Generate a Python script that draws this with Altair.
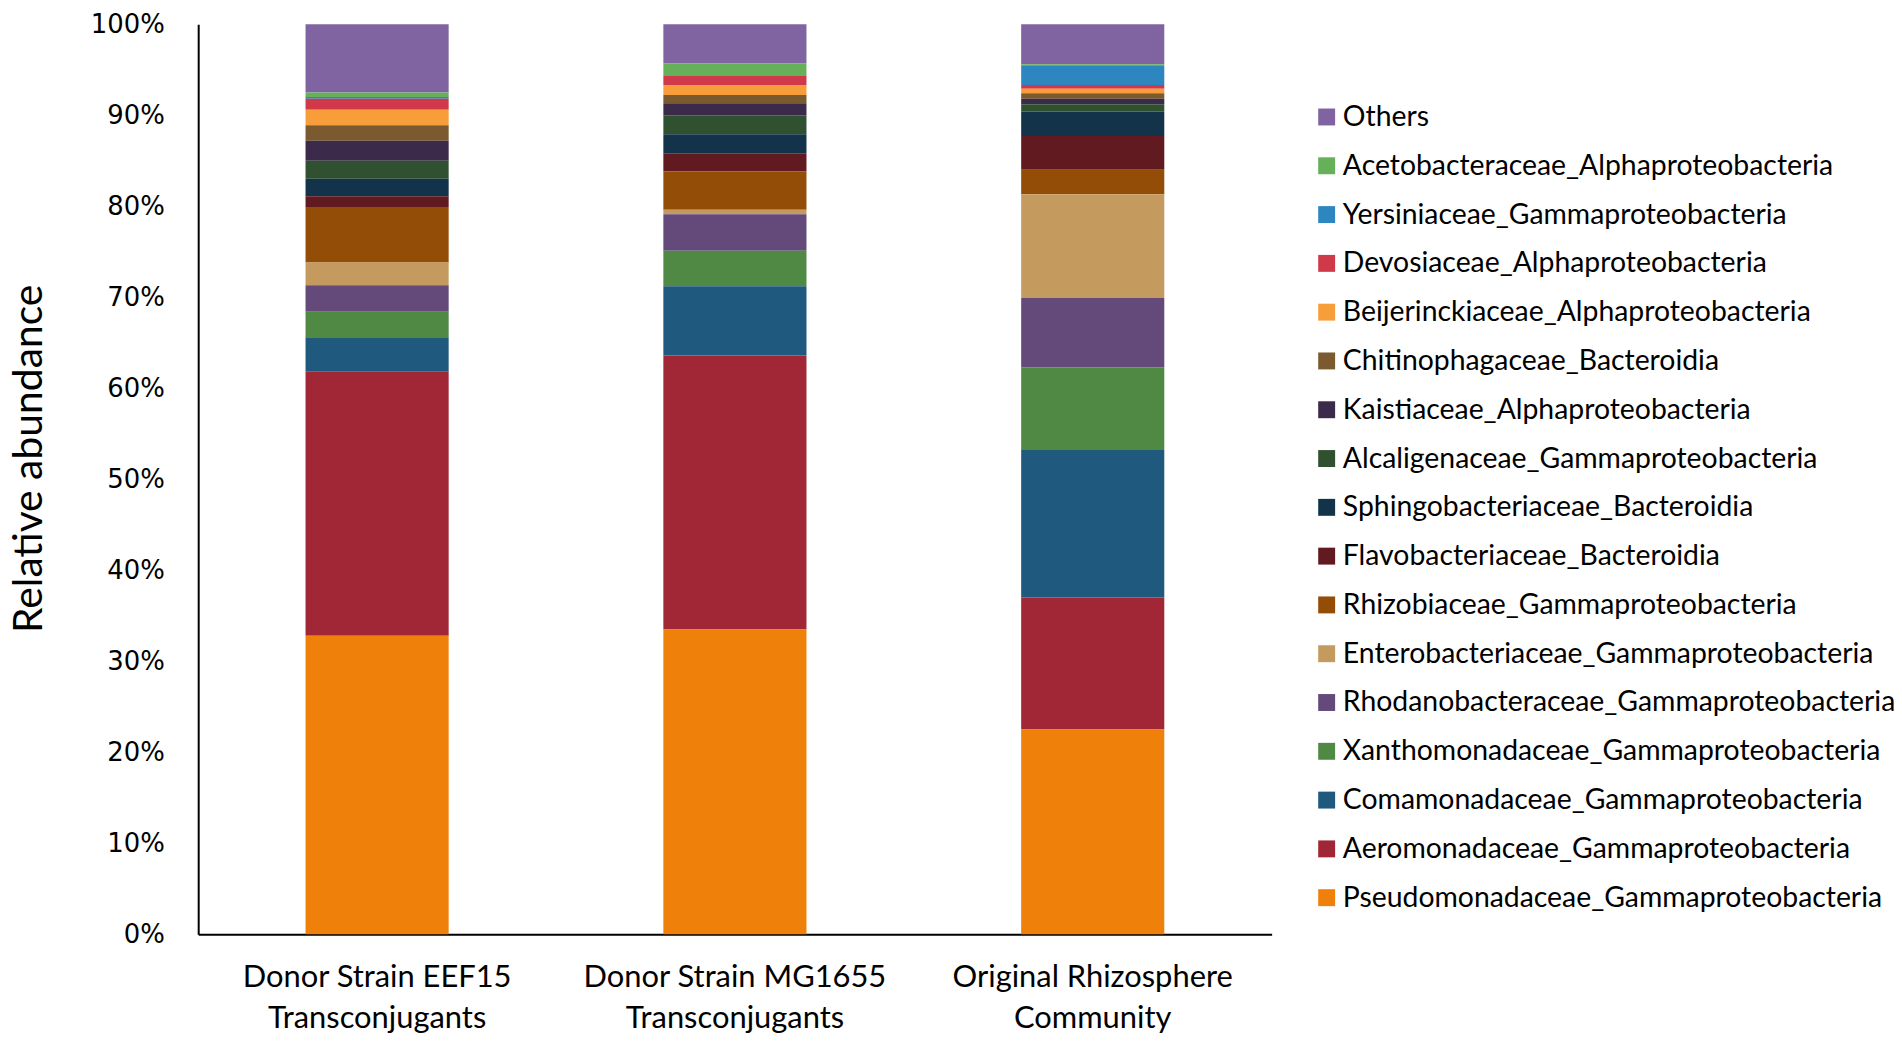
import altair as alt
import pandas as pd

samples = [
    "Donor Strain EEF15|Transconjugants",
    "Donor Strain MG1655|Transconjugants",
    "Original Rhizosphere|Community",
]

# legend order (top to bottom)
taxa = [
    "Others",
    "Acetobacteraceae_Alphaproteobacteria",
    "Yersiniaceae_Gammaproteobacteria",
    "Devosiaceae_Alphaproteobacteria",
    "Beijerinckiaceae_Alphaproteobacteria",
    "Chitinophagaceae_Bacteroidia",
    "Kaistiaceae_Alphaproteobacteria",
    "Alcaligenaceae_Gammaproteobacteria",
    "Sphingobacteriaceae_Bacteroidia",
    "Flavobacteriaceae_Bacteroidia",
    "Rhizobiaceae_Gammaproteobacteria",
    "Enterobacteriaceae_Gammaproteobacteria",
    "Rhodanobacteraceae_Gammaproteobacteria",
    "Xanthomonadaceae_Gammaproteobacteria",
    "Comamonadaceae_Gammaproteobacteria",
    "Aeromonadaceae_Gammaproteobacteria",
    "Pseudomonadaceae_Gammaproteobacteria",
]

colors = [
    "#8064A2", "#67B05A", "#2E86C1", "#D0394A", "#F79D3A", "#7A5A2E",
    "#3B2A4A", "#2F5130", "#12334A", "#601A20", "#944D07", "#C49A5E",
    "#634A7B", "#508943", "#1F5A7E", "#A12737", "#EF8009",
]

# relative abundance (%) per sample, in legend order
eef15 = [7.5, 0.5, 0.2, 1.2, 1.7, 1.7, 2.2, 2.0, 1.9, 1.2, 6.1, 2.5, 2.9, 2.8, 3.8, 29.0, 32.8]
mg1655 = [4.3, 1.4, 0.0, 1.0, 1.1, 0.9, 1.3, 2.1, 2.1, 2.0, 4.2, 0.5, 4.0, 3.9, 7.6, 30.1, 33.5]
rhizo = [4.4, 0.2, 2.1, 0.4, 0.5, 0.6, 0.6, 0.8, 2.7, 3.7, 2.7, 11.4, 7.6, 9.1, 16.2, 14.5, 22.5]

y_ticks = [0, 10, 20, 30, 40, 50, 60, 70, 80, 90, 100]

rows = []
for s, vals in zip(samples, [eef15, mg1655, rhizo]):
    for i, (t, v) in enumerate(zip(taxa, vals)):
        rows.append({"sample": s, "taxon": t, "value": v, "stack": len(taxa) - 1 - i})
df = pd.DataFrame(rows)

chart = (
    alt.Chart(df)
    .mark_bar()
    .encode(
        x=alt.X(
            "sample:N",
            sort=samples,
            scale=alt.Scale(paddingInner=0.6, paddingOuter=0.3),
            axis=alt.Axis(
                title=None,
                labelAngle=0,
                ticks=False,
                labelExpr="split(datum.label, '|')",
                labelFont="Lato",
                labelFontSize=31,
                labelColor="#000000",
                labelLimit=600,
                labelLineHeight=42,
                labelPadding=28,
                labelBaseline="top",
                domainColor="#000000",
                domainWidth=2,
            ),
        ),
        y=alt.Y(
            "value:Q",
            stack="zero",
            scale=alt.Scale(domain=[0, 100], nice=False),
            axis=alt.Axis(
                title="Relative abundance",
                values=y_ticks,
                labelExpr="datum.value + '%'",
                ticks=False,
                grid=False,
                labelFont="DejaVu Sans",
                labelFontSize=26,
                labelColor="#000000",
                labelPadding=34,
                domainColor="#000000",
                domainWidth=2,
                titleFont="Lato",
                titleFontSize=41,
                titleFontWeight="normal",
                titleColor="#000000",
                titleX=-169,
                titleY=436,
                titleAngle=-90,
                titleAlign="center",
                titleBaseline="middle",
            ),
        ),
        color=alt.Color(
            "taxon:N",
            scale=alt.Scale(domain=taxa, range=colors),
            sort=taxa,
            legend=alt.Legend(
                title=None,
                orient="none",
                legendX=1119,
                legendY=79,
                symbolType="square",
                symbolSize=289,
                symbolStrokeWidth=0,
                labelFont="Lato",
                labelFontSize=28.5,
                labelColor="#000000",
                labelLimit=800,
                rowPadding=20,
                labelOffset=2,
            ),
        ),
        order=alt.Order("stack:Q", sort="ascending"),
    )
    .properties(
        width=1078,
        height=914,
        autosize=alt.AutoSizeParams(type="none"),
        padding={"left": 191, "top": 14, "right": 625, "bottom": 110},
        background="white",
    )
    .configure_view(stroke=None)
)

chart.save("out.html", embed_options={"renderer": "svg", "actions": False})
